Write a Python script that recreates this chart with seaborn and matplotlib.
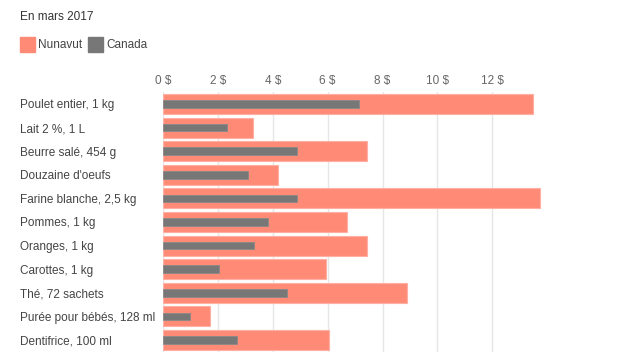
import matplotlib
matplotlib.use("Agg")
import matplotlib.pyplot as plt
import pandas as pd
import seaborn as sns
from matplotlib.patches import Rectangle

# données (en $), mars 2017
produits = ["Poulet entier, 1 kg", "Lait 2 %, 1 L", "Beurre salé, 454 g",
            "Douzaine d'oeufs", "Farine blanche, 2,5 kg", "Pommes, 1 kg",
            "Oranges, 1 kg", "Carottes, 1 kg", "Thé, 72 sachets",
            "Purée pour bébés, 128 ml", "Dentifrice, 100 ml"]
nunavut = [13.50, 3.28, 7.42, 4.20, 13.76, 6.70, 7.45, 5.93, 8.88, 1.70, 6.05]
canada = [7.15, 2.34, 4.89, 3.08, 4.89, 3.83, 3.31, 2.02, 4.51, 0.99, 2.68]
ticks = [0, 2, 4, 6, 8, 10, 12]

df = pd.DataFrame({"produit": produits, "Nunavut": nunavut, "Canada": canada})

sns.set_style("white")
plt.rcParams["font.family"] = ["Liberation Sans", "DejaVu Sans"]

W, H = 635, 357
fig = plt.figure(figsize=(W / 100, H / 100), dpi=100)
ax = fig.add_axes([163.3 / W, 1 - 351.8 / H, (547 - 163.3) / W, (351.8 - 92.2) / H])

sns.barplot(data=df, x="Nunavut", y="produit", orient="h", color="#ff8b77",
            saturation=1, width=0.85, edgecolor="#ffb0a2", linewidth=0.8,
            ax=ax, zorder=2)
sns.barplot(data=df, x="Canada", y="produit", orient="h", color="#777777",
            saturation=1, width=0.32, edgecolor="#8a8a8a", linewidth=0.6,
            ax=ax, zorder=3)

ax.set_xlim(0, 14)
ax.set_ylim(len(produits) - 0.5, -0.5)
ax.set_xticks(ticks)
ax.set_xticklabels([f"{t} $" for t in ticks])
ax.xaxis.tick_top()
ax.grid(axis="x", color="#e6e6e6", linewidth=1, zorder=0)
ax.set_axisbelow(True)
for s in ax.spines.values():
    s.set_visible(False)
ax.set_xlabel("")
ax.set_ylabel("")
ax.tick_params(axis="x", length=0, pad=4, labelsize=8.5, labelcolor="#666666")
ax.tick_params(axis="y", length=0, pad=103, labelsize=8.5, labelcolor="#444444")
for lab in ax.get_yticklabels():
    lab.set_horizontalalignment("left")

# titre et légende
fig.text(20 / W, 1 - 17 / H, "En mars 2017", fontsize=8.5, color="#333333", va="center")
fig.patches.append(Rectangle((20 / W, 1 - 52 / H), 15 / W, 15 / H,
                             transform=fig.transFigure, color="#ff8b77", figure=fig))
fig.text(38 / W, 1 - 44.5 / H, "Nunavut", fontsize=8.5, color="#444444", va="center")
fig.patches.append(Rectangle((88 / W, 1 - 52 / H), 15 / W, 15 / H,
                             transform=fig.transFigure, color="#777777", figure=fig))
fig.text(106 / W, 1 - 44.5 / H, "Canada", fontsize=8.5, color="#444444", va="center")

fig.savefig("out.png", dpi=100)
